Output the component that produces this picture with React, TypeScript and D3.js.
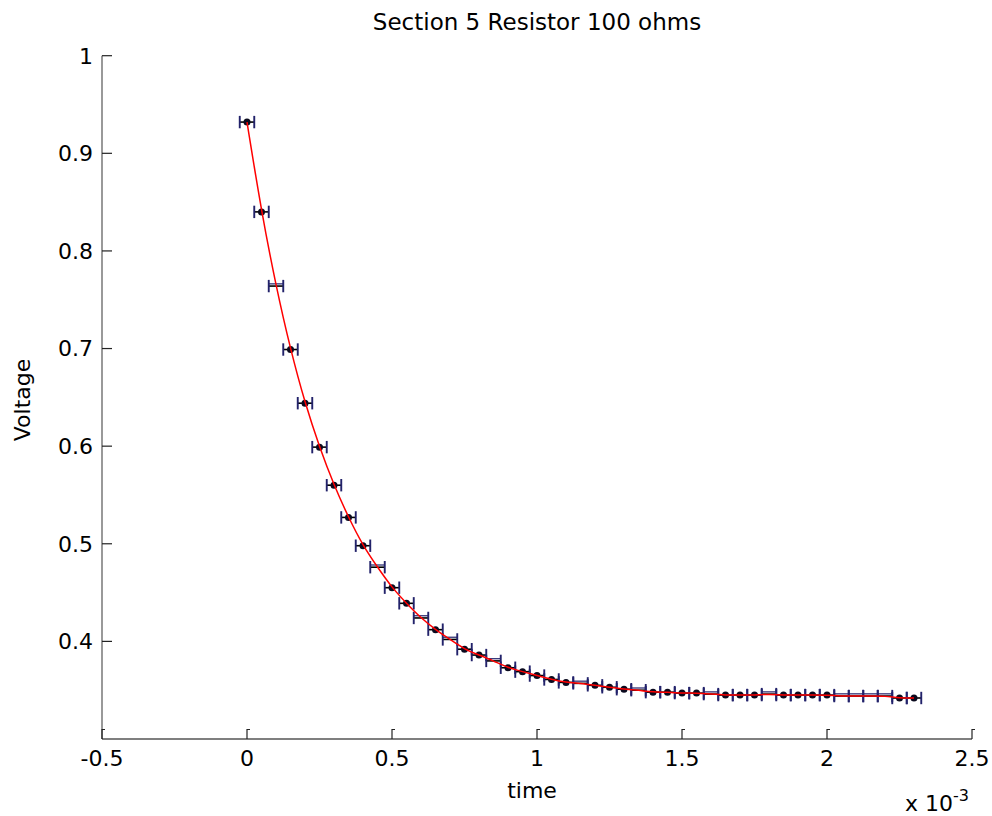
import React from "react";
import * as d3 from "d3";

// time values in units of 1e-3 s
const times = [
  0, 0.05, 0.1, 0.15, 0.2, 0.25, 0.3, 0.35, 0.4, 0.45,
  0.5, 0.55, 0.6, 0.65, 0.7, 0.75, 0.8, 0.85, 0.9, 0.95,
  1.0, 1.05, 1.1, 1.15, 1.2, 1.25, 1.3, 1.35, 1.4, 1.45,
  1.5, 1.55, 1.6, 1.65, 1.7, 1.75, 1.8, 1.85, 1.9, 1.95,
  2.0, 2.05, 2.1, 2.15, 2.2, 2.25, 2.3,
];
const voltages = [
  0.932, 0.84, 0.764, 0.699, 0.644, 0.599, 0.56, 0.527, 0.498, 0.476,
  0.455, 0.439, 0.424, 0.412, 0.402, 0.392, 0.386, 0.38, 0.373, 0.369,
  0.365, 0.361, 0.358, 0.357, 0.355, 0.353, 0.351, 0.35, 0.348, 0.348,
  0.347, 0.347, 0.346, 0.345, 0.345, 0.345, 0.346, 0.345, 0.345, 0.345,
  0.345, 0.344, 0.344, 0.344, 0.344, 0.342, 0.342,
];
// whether a marker dot is visible at the point
const hasDot = [
  1, 1, 0, 1, 1, 1, 1, 1, 1, 0,
  1, 1, 0, 1, 0, 1, 1, 0, 1, 1,
  1, 1, 1, 0, 1, 1, 1, 0, 1, 1,
  1, 1, 0, 1, 1, 1, 0, 1, 1, 1,
  1, 0, 0, 0, 0, 1, 1,
];
const timeError = 0.025; // horizontal error, 1e-3 s
const xTicks = [-0.5, 0, 0.5, 1, 1.5, 2, 2.5];
const yTicks = [0.4, 0.5, 0.6, 0.7, 0.8, 0.9, 1];
const titleText = "Section 5 Resistor 100 ohms";
const xLabel = "time";
const yLabel = "Voltage";

const W = 992;
const H = 816;
const left = 102;
const right = 972;
const top = 55.7;
const bottom = 739;
const FONT = "'DejaVu Sans', Arial, sans-serif";

export default function App() {
  const x = d3.scaleLinear().domain([-0.5, 2.5]).range([left, right]);
  const y = d3.scaleLinear().domain([0.3, 1]).range([bottom, top]);
  const pts = times.map((t, i) => ({ t, v: voltages[i], dot: hasDot[i] }));
  const fitLine = d3
    .line<{ t: number; v: number }>()
    .x((d) => x(d.t))
    .y((d) => y(d.v))
    .curve(d3.curveBasis);

  const capColor = "#22226a";

  return (
    <svg
      width={W}
      height={H}
      style={{ position: "absolute", left: 0, top: 0, background: "#fff" }}
      fontFamily={FONT}
    >
      <rect x={0} y={0} width={W} height={H} fill="#fff" />
      {/* axes */}
      <line x1={left} x2={left} y1={top} y2={bottom} stroke="#555" strokeWidth={1.2} />
      <line x1={left} x2={right} y1={bottom} y2={bottom} stroke="#000" strokeWidth={1.2} />
      {yTicks.map((t) => (
        <g key={"y" + t}>
          <line x1={left} x2={left + 10} y1={y(t)} y2={y(t)} stroke="#222" strokeWidth={1.2} />
          <text x={93} y={y(t)} dy="0.36em" textAnchor="end" fontSize={22}>
            {String(t)}
          </text>
        </g>
      ))}
      {xTicks.map((t) => (
        <g key={"x" + t}>
          <line x1={x(t)} x2={x(t)} y1={bottom} y2={bottom - 10} stroke="#222" strokeWidth={1.2} />
          <line x1={x(t)} x2={x(t) + 3} y1={bottom - 9.5} y2={bottom - 9.5} stroke="#222" strokeWidth={1} />
          <text x={x(t)} y={766} textAnchor="middle" fontSize={22}>
            {String(t)}
          </text>
        </g>
      ))}
      {/* error bars */}
      {pts.map((p, i) => {
        const cy = y(p.v);
        const x0 = x(p.t - timeError);
        const x1 = x(p.t + timeError);
        return (
          <g key={"e" + i}>
            <line x1={x0} x2={x1} y1={cy} y2={cy} stroke="#000" strokeWidth={1.6} />
            {!p.dot && (
              <line x1={x0} x2={x1} y1={cy - 2.2} y2={cy - 2.2} stroke={capColor} strokeWidth={1.2} />
            )}
            <line x1={x0} x2={x0} y1={cy - 6.2} y2={cy + 6.2} stroke={capColor} strokeWidth={1.9} />
            <line x1={x1} x2={x1} y1={cy - 6.2} y2={cy + 6.2} stroke={capColor} strokeWidth={1.9} />
          </g>
        );
      })}
      {pts
        .filter((p) => p.dot)
        .map((p, i) => (
          <circle key={"d" + i} cx={x(p.t)} cy={y(p.v)} r={3.5} fill="#0a0a1e" />
        ))}
      <path d={fitLine(pts) || ""} fill="none" stroke="#ff0000" strokeWidth={1.5} />
      {/* labels */}
      <text x={537} y={30} textAnchor="middle" fontSize={23}>
        {titleText}
      </text>
      <text x={532} y={798} textAnchor="middle" fontSize={22}>
        {xLabel}
      </text>
      <text
        transform={`translate(30,400) rotate(-90)`}
        textAnchor="middle"
        fontSize={22}
      >
        {yLabel}
      </text>
      <text x={905} y={811} fontSize={22}>
        x 10
      </text>
      <text x={953} y={801} fontSize={16}>
        -3
      </text>
    </svg>
  );
}
